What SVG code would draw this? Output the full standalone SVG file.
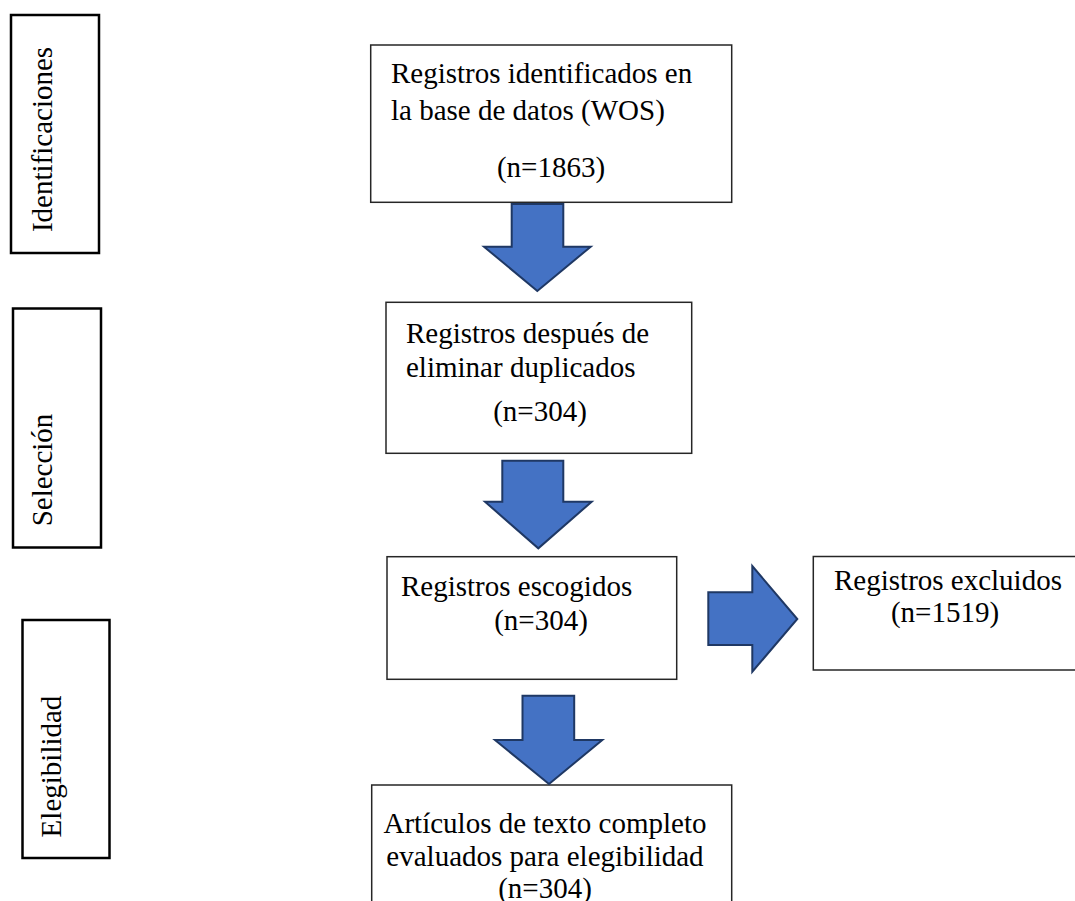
<svg xmlns="http://www.w3.org/2000/svg" width="1075" height="901" viewBox="0 0 1075 901">
<style>
.lbl{fill:#fff;stroke:#000;stroke-width:2.5}
.box{fill:#fff;stroke:#262626;stroke-width:1.5}
.t{font-family:"Liberation Serif","Times New Roman",serif;font-size:29px;fill:#000}
.m{text-anchor:middle}
.arr{fill:#4472C4;stroke:#1F3864;stroke-width:2;stroke-linejoin:miter}
</style>
<rect width="1075" height="901" fill="#fff"/>
<g id="lbl-identificaciones">
<rect class="lbl" x="11" y="15" width="88" height="238"/>
<text class="t m" transform="translate(51.5,139.5) rotate(-90)">Identificaciones</text>
</g>
<g id="lbl-seleccion">
<rect class="lbl" x="13" y="308.5" width="88" height="239"/>
<text class="t m" transform="translate(52,470) rotate(-90)">Selección</text>
</g>
<g id="lbl-elegibilidad">
<rect class="lbl" x="22.5" y="620" width="87" height="238"/>
<text class="t m" transform="translate(61,766.5) rotate(-90)">Elegibilidad</text>
</g>
<g id="n1">
<rect class="box" x="370.7" y="45" width="361" height="157.3"/>
<text class="t" x="391" y="83">Registros identificados en</text>
<text class="t" x="391" y="120">la base de datos (WOS)</text>
<text class="t m" x="551" y="177">(n=1863)</text>
</g>
<g id="n2">
<rect class="box" x="386" y="302.3" width="305.7" height="151"/>
<text class="t" x="406" y="343">Registros después de</text>
<text class="t" x="406" y="377">eliminar duplicados</text>
<text class="t m" x="540" y="421">(n=304)</text>
</g>
<g id="n3">
<rect class="box" x="387" y="556.7" width="289.7" height="122.6"/>
<text class="t" x="401" y="596">Registros escogidos</text>
<text class="t m" x="541" y="630">(n=304)</text>
</g>
<g id="n4">
<rect class="box" x="813.3" y="556.5" width="270" height="113.5"/>
<text class="t m" x="948" y="590">Registros excluidos</text>
<text class="t m" x="945" y="622">(n=1519)</text>
</g>
<g id="n5">
<rect class="box" x="371.7" y="785" width="360" height="130"/>
<text class="t m" x="545" y="833">Artículos de texto completo</text>
<text class="t m" x="545" y="866">evaluados para elegibilidad</text>
<text class="t m" x="545" y="898">(n=304)</text>
</g>
<g id="connectors">
<polygon class="arr" points="511.7,204 563.3,204 563.3,246.7 590.7,246.7 537.3,291 484,246.7 511.7,246.7"/>
<polygon class="arr" points="502.3,460.7 563.3,460.7 563.3,501.7 591.7,501.7 538.3,548.3 485,501.7 502.3,501.7"/>
<polygon class="arr" points="708.3,592.3 752.3,592.3 752.3,566 797.3,619 752.3,671.7 752.3,645 708.3,645"/>
<polygon class="arr" points="522.5,695.7 574.2,695.7 574.2,740 602.3,740 549,784 495,740 522.5,740"/>
</g>
</svg>
